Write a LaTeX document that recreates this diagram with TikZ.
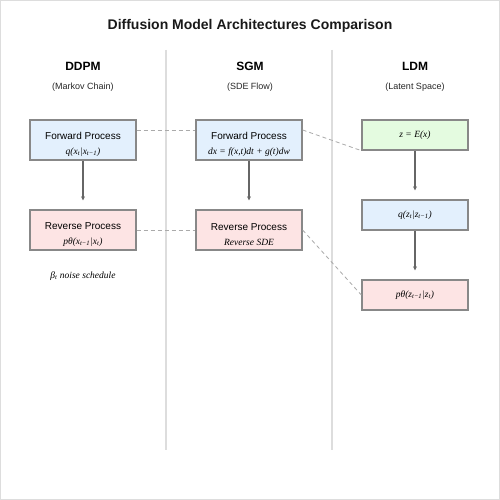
\documentclass[tikz,border=0pt]{standalone}
\usepackage{fontspec}
\setmainfont{Liberation Sans}
\newfontfamily\formfont{Liberation Serif}
\usetikzlibrary{arrows.meta}
\definecolor{framegray}{HTML}{DDDDDD}
\definecolor{boxgray}{HTML}{888888}
\definecolor{arrowgray}{HTML}{666666}
\definecolor{dashgray}{HTML}{AAAAAA}
\definecolor{fwdfill}{HTML}{E3F0FD}
\definecolor{revfill}{HTML}{FDE4E4}
\definecolor{encfill}{HTML}{E4FBE0}

\begin{document}
\begin{tikzpicture}[x=1pt, y=-1pt,
    procbox/.style={draw=boxgray, line width=1.3pt, minimum width=106pt, inner sep=0pt},
    boxtext/.style={align=center, inner sep=0pt, font=\fontsize{10}{15}\selectfont},
    formula/.style={font=\formfont\itshape\fontsize{9.5}{11}\selectfont},
    flowarrow/.style={draw=arrowgray, line width=1.3pt, shorten >=9pt, -{Stealth[length=4pt,width=4pt]}},
    linkline/.style={draw=dashgray, line width=0.8pt, dash pattern=on 4pt off 3pt}]
    \draw[framegray, line width=1.2pt] (0.6,0.6) rectangle (499.4,499.4);
    \draw[framegray, line width=1.5pt] (166,50) -- (166,450);
    \draw[framegray, line width=1.5pt] (332,50) -- (332,450);

    \node[font=\bfseries\fontsize{14}{16}\selectfont, text=black!90] (title) at (250,26) {Diffusion Model Architectures Comparison};

    \node[font=\bfseries\fontsize{12}{14}\selectfont] (hddpm) at (83,66) {DDPM};
    \node[font=\fontsize{9}{11}\selectfont, text=black!85] (sddpm) at (83,87) {(Markov Chain)};
    \node[font=\bfseries\fontsize{12}{14}\selectfont] (hsgm) at (250,66) {SGM};
    \node[font=\fontsize{9}{11}\selectfont, text=black!85] (ssgm) at (250,87) {(SDE Flow)};
    \node[font=\bfseries\fontsize{12}{14}\selectfont] (hldm) at (415,66) {LDM};
    \node[font=\fontsize{9}{11}\selectfont, text=black!85] (sldm) at (415,87) {(Latent Space)};

    % DDPM
    \node[procbox, fill=fwdfill, minimum height=40pt] (fwdA) at (83,140) {};
    \node[boxtext] (fwdAtxt) at ([yshift=-4.5pt]fwdA.center) {Forward Process\\{\formfont\itshape\fontsize{9.5}{11}\selectfont q(x\textsubscript{t}|x\textsubscript{t−1})}};
    \node[procbox, fill=revfill, minimum height=40pt] (revA) at (83,230) {};
    \node[boxtext] (revAtxt) at ([yshift=-4.5pt]revA.center) {Reverse Process\\{\formfont\itshape\fontsize{9.5}{11}\selectfont pθ(x\textsubscript{t−1}|x\textsubscript{t})}};
    \node[formula] (sched) at (83,276) {β\textsubscript{t} noise schedule};

    % SGM
    \node[procbox, fill=fwdfill, minimum height=40pt] (fwdB) at (249,140) {};
    \node[boxtext] (fwdBtxt) at ([yshift=-4.5pt]fwdB.center) {Forward Process\\{\formfont\itshape\fontsize{9.5}{11}\selectfont dx = f(x,t)dt + g(t)dw}};
    \node[procbox, fill=revfill, minimum height=40pt] (revB) at (249,230) {};
    \node[boxtext] (revBtxt) at ([yshift=-4.5pt]revB.center) {Reverse Process\\{\formfont\itshape\fontsize{9.5}{11}\selectfont Reverse SDE}};

    % LDM
    \node[procbox, fill=encfill, minimum height=30pt, formula] (encC) at (415,135) {z = E(x)};
    \node[procbox, fill=fwdfill, minimum height=30pt, formula] (fwdC) at (415,215) {q(z\textsubscript{t}|z\textsubscript{t−1})};
    \node[procbox, fill=revfill, minimum height=30pt, formula] (decC) at (415,295) {pθ(z\textsubscript{t−1}|z\textsubscript{t})};

    \draw[flowarrow] (fwdA) -- (revA);
    \draw[flowarrow] (fwdB) -- (revB);
    \draw[flowarrow] (encC) -- (fwdC);
    \draw[flowarrow] (fwdC) -- (decC);

    \draw[linkline] ([yshift=10pt]fwdA.east) -- ([yshift=10pt]fwdB.west);
    \draw[linkline] (revA.east) -- (revB.west);
    \draw[linkline] ([yshift=10pt]fwdB.east) -- (encC.south west);
    \draw[linkline] (revB.east) -- (decC.west);
\end{tikzpicture}
\end{document}
